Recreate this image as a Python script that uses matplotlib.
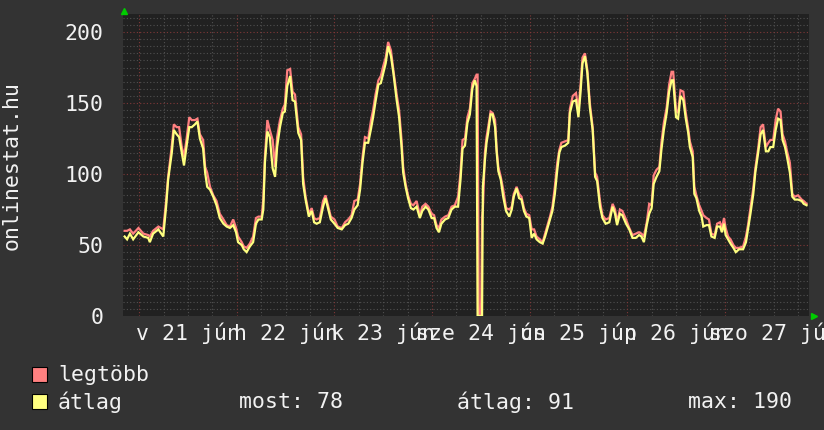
import numpy as np
import matplotlib
matplotlib.use('Agg')
import matplotlib.pyplot as plt
import matplotlib.transforms as mtransforms

# godziny od polnocy 21 jun
hours = [-3.6, -3.0, -2.3, -1.5, -0.2, 1.0, 2.2, 2.6, 3.4, 4.7, 5.9, 6.6, 7.1, 8.0, 8.5, 9.2,
         9.8, 10.4, 11.0, 11.6, 12.3, 12.9, 13.7, 14.3, 14.9, 15.7, 16.2, 16.7, 17.4, 18.2, 19.0, 19.8,
         20.7, 21.5, 22.3, 23.1, 23.8, 24.3, 25.2, 25.7, 26.4, 27.2, 28.0, 28.7, 29.3, 30.1, 30.5, 30.9,
         31.5, 32.1, 32.8, 33.4, 33.9, 34.6, 35.3, 35.8, 36.4, 37.1, 37.7, 38.3, 39.1, 39.8, 40.3, 40.9,
         41.7, 42.4, 43.0, 43.6, 44.4, 45.2, 45.8, 46.5, 47.1, 48.0, 48.8, 49.8, 50.6, 51.4, 52.2, 52.9,
         53.7, 54.3, 54.9, 55.5, 56.3, 57.0, 57.5, 58.1, 58.8, 59.4, 60.0, 60.6, 61.2, 61.9, 62.5, 63.3,
         63.9, 64.5, 64.9, 65.5, 66.1, 66.8, 67.4, 68.2, 69.0, 69.6, 70.4, 71.1, 71.9, 72.5, 73.1, 73.7,
         74.3, 75.2, 76.0, 76.8, 77.6, 78.4, 79.0, 79.5, 80.1, 80.7, 81.3, 81.9, 82.5, 82.95, 83.2, 83.5,
         84.0, 84.1, 84.3, 84.5, 85.0, 85.4, 85.8, 86.4, 86.9, 87.5, 87.9, 88.3, 88.9, 89.5, 90.2, 91.0,
         91.6, 92.1, 92.8, 93.4, 94.0, 94.6, 95.2, 95.9, 96.5, 97.1, 97.7, 98.5, 99.2, 99.8, 100.3, 101.0,
         101.6, 102.2, 102.8, 103.3, 103.8, 104.7, 105.5, 105.9, 106.6, 107.4, 108.0, 108.5, 109.0, 109.6, 110.2, 110.8,
         111.5, 112.1, 112.6, 113.3, 113.9, 114.7, 115.6, 116.4, 117.0, 117.5, 118.2, 118.8, 119.7, 120.5, 121.3, 122.1,
         122.9, 123.5, 124.1, 124.8, 125.4, 126.0, 126.5, 127.2, 127.9, 128.4, 129.0, 129.7, 130.3, 130.9, 131.3, 132.0,
         132.5, 133.1, 133.8, 134.4, 135.0, 135.4, 136.1, 136.5, 137.0, 137.7, 138.3, 138.7, 139.5, 140.1, 140.7, 141.5,
         142.1, 142.8, 143.3, 143.8, 144.2, 144.8, 145.4, 146.1, 146.7, 147.5, 148.5, 149.2, 149.7, 150.3, 151.0, 151.5,
         152.2, 152.8, 153.4, 154.1, 154.7, 155.2, 155.9, 156.5, 157.1, 157.7, 158.2, 158.8, 159.3, 160.0, 160.6, 161.2,
         162.0, 162.9, 163.4, 164.1]

atlag = [56, 54, 58, 54, 59, 56, 55, 52, 58, 61, 56, 77, 96, 115, 131, 128,
         126, 116, 106, 119, 133, 133, 135, 137, 125, 118, 101, 91, 89, 84, 78, 69,
         65, 63, 62, 64, 59, 52, 50, 47, 45, 49, 52, 65, 68, 68, 75, 108,
         130, 126, 104, 98, 119, 133, 143, 144, 162, 169, 152, 151, 129, 124, 93, 82,
         70, 74, 66, 65, 66, 77, 83, 75, 68, 65, 62, 61, 64, 65, 69, 75,
         78, 89, 108, 122, 122, 132, 140, 151, 163, 164, 171, 178, 190, 183, 171, 152,
         140, 119, 101, 91, 83, 76, 75, 77, 69, 74, 77, 75, 69, 69, 62, 59,
         65, 68, 69, 75, 77, 77, 96, 118, 120, 136, 142, 160, 166, 162, 0, 0,
         0, 0, 0, 91, 110, 122, 129, 142, 142, 133, 115, 102, 96, 84, 74, 70,
         75, 84, 90, 83, 82, 74, 70, 69, 55, 58, 54, 52, 51, 56, 61, 68,
         74, 86, 103, 115, 119, 120, 122, 143, 151, 152, 140, 157, 178, 183, 171, 147,
         131, 98, 95, 77, 69, 65, 66, 77, 72, 64, 72, 71, 65, 61, 55, 55,
         57, 56, 52, 64, 72, 76, 93, 98, 102, 117, 131, 143, 158, 166, 166, 140,
         139, 155, 152, 139, 129, 119, 112, 86, 83, 74, 70, 63, 64, 64, 56, 55,
         63, 63, 59, 65, 57, 54, 51, 48, 45, 47, 47, 52, 61, 72, 86, 101,
         115, 128, 131, 116, 116, 119, 119, 131, 139, 138, 124, 119, 112, 101, 84, 82,
         82, 81, 79, 78]

legtobb = [60, 60, 61, 58, 62, 58, 57, 56, 60, 63, 61, 81, 98, 120, 135, 133,
           133, 120, 112, 124, 140, 138, 138, 139, 128, 124, 105, 101, 91, 85, 81, 72,
           68, 64, 63, 68, 62, 56, 52, 49, 48, 51, 56, 69, 70, 70, 82, 112,
           138, 131, 124, 105, 126, 138, 146, 149, 173, 174, 158, 156, 133, 128, 98, 84,
           72, 76, 69, 68, 69, 81, 85, 77, 70, 68, 63, 62, 66, 68, 71, 81,
           82, 93, 112, 126, 125, 138, 145, 156, 166, 169, 176, 182, 193, 187, 173, 156,
           145, 124, 105, 93, 85, 79, 78, 81, 71, 77, 79, 77, 72, 71, 64, 62,
           68, 70, 71, 77, 78, 84, 101, 124, 125, 140, 146, 164, 167, 170, 170, 0,
           0, 13, 70, 75, 115, 126, 133, 144, 143, 138, 117, 105, 98, 89, 76, 75,
           77, 86, 91, 86, 84, 76, 72, 71, 61, 61, 56, 54, 52, 58, 63, 70,
           77, 91, 108, 117, 122, 123, 124, 146, 155, 157, 145, 162, 182, 185, 173, 150,
           133, 101, 98, 81, 71, 68, 69, 79, 75, 66, 75, 74, 68, 62, 57, 58,
           59, 58, 56, 66, 79, 78, 99, 103, 105, 122, 136, 147, 163, 172, 172, 145,
           143, 159, 158, 143, 132, 123, 116, 91, 85, 78, 74, 71, 69, 68, 58, 57,
           65, 66, 62, 69, 62, 56, 54, 50, 48, 48, 49, 56, 64, 76, 90, 104,
           118, 133, 135, 119, 122, 124, 124, 138, 146, 144, 128, 123, 116, 108, 86, 84,
           85, 82, 81, 79]

day_labels = ['v 21 jún', 'h 22 jún', 'k 23 jún', 'sze 24 jún', 'cs 25 jún', 'p 26 jún', 'szo 27 jún']
y_ticks = [0, 50, 100, 150, 200]
most, atl, mx = 78, 91, 190

plt.rcParams['font.family'] = ['DejaVu Sans Mono']
fs = 15.5
bg = '#333333'
canvas = '#212121'
txt = '#f2f2f2'
red = '#ff8080'
yellow = '#ffff80'

fig = plt.figure(figsize=(8.24, 4.30), dpi=100, facecolor=bg)
ax = fig.add_axes([123/824., 1-316/430., (809-123)/824., (316-14)/430.])
ax.set_facecolor(canvas)
ax.set_xlim(-4.0, 164.7)
ax.set_ylim(0, 212.7)

# siatka
for v in np.arange(5, 212, 5):
    if v % 50 == 0:
        continue
    ax.axhline(v, color='#505050', lw=0.8, ls=(0, (1, 2)), zorder=1)
for h in np.arange(-24, 170, 6):
    if h % 24 == 0:
        continue
    ax.axvline(h, color='#505050', lw=0.8, ls=(0, (1, 2)), zorder=1)
for v in [50, 100, 150, 200]:
    ax.axhline(v, color='#803838', lw=0.8, ls=(0, (1, 2)), zorder=1.5)
for h in np.arange(0, 170, 24):
    ax.axvline(h, color='#803838', lw=0.8, ls=(0, (1, 2)), zorder=1.5)

ax.plot(hours, legtobb, color=red, lw=1.6, zorder=3, solid_joinstyle='miter')
ax.plot(hours, atlag, color=yellow, lw=1.6, zorder=4, solid_joinstyle='miter')

for s in ax.spines.values():
    s.set_visible(False)
ax.set_yticks(y_ticks)
ax.set_yticklabels([str(v) for v in y_ticks])
ax.set_xticks([12 + 24*i for i in range(len(day_labels))])
ax.set_xticklabels(day_labels)
ax.tick_params(axis='both', length=0, colors=txt, labelsize=fs)
ax.tick_params(axis='y', pad=14)
ax.tick_params(axis='x', pad=5)

# zielone strzalki
up = mtransforms.offset_copy(ax.transAxes, fig=fig, x=1.5, y=3.5, units='dots')
ax.plot([0], [1], marker='^', color='#00cc00', ms=5, transform=up, clip_on=False, zorder=6)
rt = mtransforms.offset_copy(ax.transAxes, fig=fig, x=4.5, y=0, units='dots')
ax.plot([1], [0], marker='>', color='#00cc00', ms=5, transform=rt, clip_on=False, zorder=6)

fig.text(12/824., 1-166/430., 'onlinestat.hu', rotation=90, color=txt, fontsize=fs,
         ha='center', va='center')

# legenda
fig.patches.append(plt.Rectangle((32/824., 1-382/430.), 15/824., 15/430., transform=fig.transFigure,
                                 facecolor=red, edgecolor='black', lw=0.8))
fig.patches.append(plt.Rectangle((32/824., 1-409/430.), 15/824., 15/430., transform=fig.transFigure,
                                 facecolor=yellow, edgecolor='black', lw=0.8))
fig.text(58/824., 1-375/430., 'legtöbb', color=txt, fontsize=fs, va='center')
fig.text(58/824., 1-402/430., 'átlag', color=txt, fontsize=fs, va='center')
fig.text(239/824., 1-402/430., 'most: %d' % most, color=txt, fontsize=fs, va='center')
fig.text(457/824., 1-402/430., 'átlag: %d' % atl, color=txt, fontsize=fs, va='center')
fig.text(688/824., 1-402/430., 'max: %d' % mx, color=txt, fontsize=fs, va='center')

fig.savefig('out.png', dpi=100, facecolor=bg)
